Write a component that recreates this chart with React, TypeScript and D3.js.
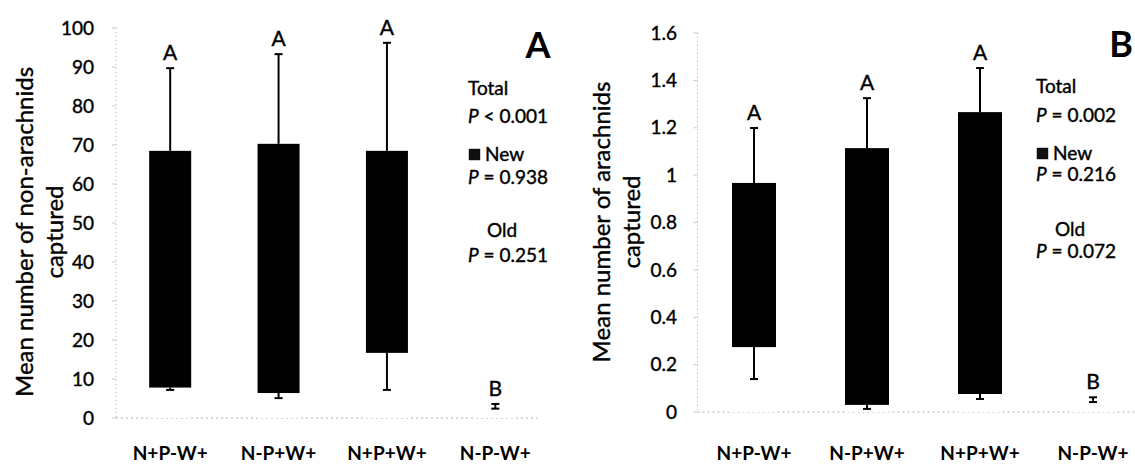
import React from "react";
import * as d3 from "d3";

const categories = ["N+P-W+", "N-P+W+", "N+P+W+", "N-P-W+"];

// Panel A: non-arachnids
const oldA = [7.8, 6.4, 16.7, 3.0];
const totalA = [68.5, 70.3, 68.5, 3.0];
const totalUpperA = [89.7, 93.3, 96.2, 3.6];
const oldLowerA = [7.2, 5.1, 7.2, 2.4];
const lettersA = ["A", "A", "A", "B"];
const ticksA = [0, 10, 20, 30, 40, 50, 60, 70, 80, 90, 100];

// Panel B: arachnids
const oldB = [0.274, 0.03, 0.076, 0.05];
const totalB = [0.967, 1.114, 1.266, 0.05];
const totalUpperB = [1.199, 1.325, 1.452, 0.062];
const oldLowerB = [0.139, 0.013, 0.055, 0.042];
const lettersB = ["A", "A", "A", "B"];
const ticksB = [0, 0.2, 0.4, 0.6, 0.8, 1, 1.2, 1.4, 1.6];

const FONT = "Lato, 'Open Sans', sans-serif";

type PanelProps = {
  old: number[];
  total: number[];
  upper: number[];
  lower: number[];
  letters: string[];
  ticks: number[];
  yMax: number;
  axisX: number;
  xEnd: number;
  yTop: number;
  yBase: number;
  barW: number;
  tickLabelX: number;
  titleLines: string[];
  titleXs: number[];
  titleY: number;
  panelLetter: string;
  panelLetterX: number;
  panelLetterY: number;
  legendX: number;
  legendYs: number[];
  pTexts: string[];
  letterGap: number;
};

const heavy = { stroke: "#000", strokeWidth: 0.4 };

function Panel(p: PanelProps) {
  const y = d3.scaleLinear().domain([0, p.yMax]).range([p.yBase, p.yTop]);
  const x = d3.scalePoint<string>().domain(categories).range([p.axisX, p.xEnd]).padding(0.5);
  const capW = 4;
  const [ly0, ly1, ly2, ly3, ly4, ly5] = p.legendYs;
  return (
    <g fontFamily={FONT}>
      {/* axes */}
      <line x1={p.axisX} x2={p.axisX} y1={p.yTop} y2={p.yBase} stroke="#b0b0b0" strokeDasharray="1,3" />
      <line x1={p.axisX} x2={p.xEnd - 12} y1={p.yBase} y2={p.yBase} stroke="#b0b0b0" strokeDasharray="2,3" />
      {p.ticks.map((t) => (
        <g key={t}>
          <line x1={p.axisX - 4} x2={p.axisX} y1={y(t)} y2={y(t)} stroke="#c8c8c8" />
          <text x={p.tickLabelX} y={y(t)} dy="0.35em" textAnchor="end" fontSize={19} fill="#000" {...heavy}>
            {String(t)}
          </text>
        </g>
      ))}
      {/* y title */}
      {p.titleLines.map((s, i) => (
        <text
          key={s}
          transform={`translate(${p.titleXs[i]},${p.titleY}) rotate(-90)`}
          textAnchor="middle"
          dy="0.35em"
          fontSize={24}
          {...heavy}
        >
          {s}
        </text>
      ))}
      {/* bars */}
      {categories.map((c, i) => {
        const cx = x(c)!;
        return (
          <g key={c}>
            <rect x={cx - p.barW / 2} width={p.barW} y={y(p.old[i])} height={y(0) - y(p.old[i])} fill="#fff" />
            {p.total[i] > p.old[i] && (
              <rect
                x={cx - p.barW / 2}
                width={p.barW}
                y={y(p.total[i])}
                height={y(p.old[i]) - y(p.total[i])}
                fill="#000"
              />
            )}
            <line x1={cx} x2={cx} y1={y(p.total[i])} y2={y(p.upper[i])} stroke="#000" strokeWidth={2} />
            <line x1={cx - capW} x2={cx + capW} y1={y(p.upper[i])} y2={y(p.upper[i])} stroke="#000" strokeWidth={2} />
            <line x1={cx} x2={cx} y1={y(p.old[i])} y2={y(p.lower[i])} stroke="#000" strokeWidth={2} />
            <line x1={cx - capW} x2={cx + capW} y1={y(p.lower[i])} y2={y(p.lower[i])} stroke="#000" strokeWidth={2} />
            <text x={cx} y={y(p.upper[i]) - p.letterGap} textAnchor="middle" fontSize={21} {...heavy}>
              {p.letters[i]}
            </text>
          </g>
        );
      })}
      {/* panel letter */}
      <text x={p.panelLetterX} y={p.panelLetterY} textAnchor="middle" fontSize={36} fontWeight="bold">
        {p.panelLetter}
      </text>
      {/* stats legend */}
      <g fontSize={19} {...heavy}>
        <text x={p.legendX} y={ly0}>Total</text>
        <text x={p.legendX} y={ly1}>
          <tspan fontStyle="italic">P</tspan>
          {p.pTexts[0]}
        </text>
        <rect x={p.legendX + 1} y={ly2 - 12} width={11} height={11} fill="#111" />
        <text x={p.legendX + 17} y={ly2}>New</text>
        <text x={p.legendX} y={ly3}>
          <tspan fontStyle="italic">P</tspan>
          {p.pTexts[1]}
        </text>
        <text x={p.legendX + 19} y={ly4}>Old</text>
        <text x={p.legendX} y={ly5}>
          <tspan fontStyle="italic">P</tspan>
          {p.pTexts[2]}
        </text>
      </g>
      {/* x labels */}
      {categories.map((c) => (
        <text key={"l" + c} x={x(c)!} y={460} textAnchor="middle" fontSize={19} fontWeight="bold">
          {c}
        </text>
      ))}
    </g>
  );
}

export default function App() {
  return (
    <svg width={1135} height={464} style={{ position: "absolute", left: 0, top: 0, background: "#fff" }}>
      <rect width={1135} height={464} fill="#fff" />
      <Panel
        old={oldA}
        total={totalA}
        upper={totalUpperA}
        lower={oldLowerA}
        letters={lettersA}
        ticks={ticksA}
        yMax={100}
        axisX={116}
        xEnd={549.5}
        yTop={28}
        yBase={418}
        barW={42}
        tickLabelX={94}
        titleLines={["Mean number of non-arachnids", "captured"]}
        titleXs={[25, 55]}
        titleY={232}
        panelLetter="A"
        panelLetterX={538}
        panelLetterY={58}
        legendX={468}
        legendYs={[95, 123, 161, 184, 237, 262]}
        pTexts={[" < 0.001", " = 0.938", " = 0.251"]}
        letterGap={8}
      />
      <Panel
        old={oldB}
        total={totalB}
        upper={totalUpperB}
        lower={oldLowerB}
        letters={lettersB}
        ticks={ticksB}
        yMax={1.6}
        axisX={697.5}
        xEnd={1149.5}
        yTop={33}
        yBase={412}
        barW={44}
        tickLabelX={677}
        titleLines={["Mean number of arachnids", "captured"]}
        titleXs={[602, 632]}
        titleY={222}
        panelLetter="B"
        panelLetterX={1121}
        panelLetterY={57}
        legendX={1036}
        legendYs={[93, 122, 160, 181, 236, 258]}
        pTexts={[" = 0.002", " = 0.216", " = 0.072"]}
        letterGap={8}
      />
    </svg>
  );
}
